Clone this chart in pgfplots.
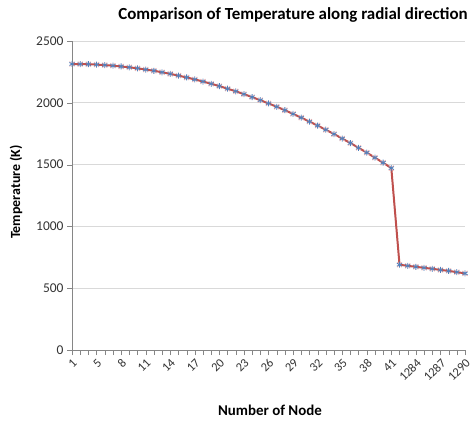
\documentclass[border=0pt]{standalone}
\usepackage{pgfplots}
\pgfplotsset{compat=1.18}
\usepackage{pgfplotstable}
\usepackage{fontspec}
\setmainfont{Carlito}
\definecolor{exred}{HTML}{C0504D}
\definecolor{exblue}{HTML}{4F81BD}
\definecolor{expink}{HTML}{F2B8B6}
\definecolor{gridc}{HTML}{D9D9D9}
\definecolor{axc}{HTML}{868686}
\definecolor{txt}{HTML}{333333}
\pgfplotstableread{
x y
0 2314
1 2313
2 2312
3 2309
4 2305
5 2300
6 2294
7 2287
8 2279
9 2269
10 2259
11 2247
12 2234
13 2220
14 2205
15 2189
16 2172
17 2154
18 2135
19 2114
20 2093
21 2070
22 2046
23 2021
24 1995
25 1968
26 1940
27 1910
28 1880
29 1848
30 1816
31 1782
32 1747
33 1711
34 1674
35 1636
36 1597
37 1556
38 1515
39 1472
40 690
41 681
42 673
43 665
44 657
45 648
46 640
47 630
48 620
}\datatable
\begin{document}
\begin{tikzpicture}[x=1bp,y=1bp]
\useasboundingbox (0,0) rectangle (474,422);
\begin{axis}[at={(72bp,72bp)}, anchor=south west, scale only axis,
  width=393bp, height=309bp,
  xmin=0, xmax=48, ymin=0, ymax=2500,
  ytick={0,500,...,2500},
  xtick={0,3,...,48},
  xticklabels={1,5,8,11,14,17,20,23,26,29,32,35,38,41,1284,1287,1290},
  minor xtick={0,...,48},
  axis x line*=bottom, axis y line*=left,
  axis line style={axc,-},
  ymajorgrids, grid style={gridc, line width=0.8pt},
  tick style={axc}, tick align=outside,
  major tick length=5bp, minor tick length=5bp,
  xticklabel style={rotate=45, anchor=north east, text=txt, font=\fontsize{12.5}{13}\selectfont, inner sep=2bp},
  yticklabel style={text=txt, font=\fontsize{13.5}{14}\selectfont},
  /pgf/number format/assume math mode=true,
  /pgf/number format/set thousands separator={},
  clip=false,
]
\addplot[expink, only marks, mark=x, mark size=3.5bp, line width=1pt] table {\datatable};
\addplot[exblue, mark=asterisk, mark size=3bp, line width=0.8pt] table {\datatable};
\addplot[exred, line width=2pt] table {\datatable};
\end{axis}
\node[font=\bfseries\fontsize{17}{18}\selectfont] at (293,407) {Comparison of Temperature along radial direction};
\node[font=\bfseries\fontsize{14}{15}\selectfont, rotate=90] at (16,230) {Temperature (K)};
\node[font=\bfseries\fontsize{15}{16}\selectfont] at (270,12) {Number of Node};
\end{tikzpicture}
\end{document}
